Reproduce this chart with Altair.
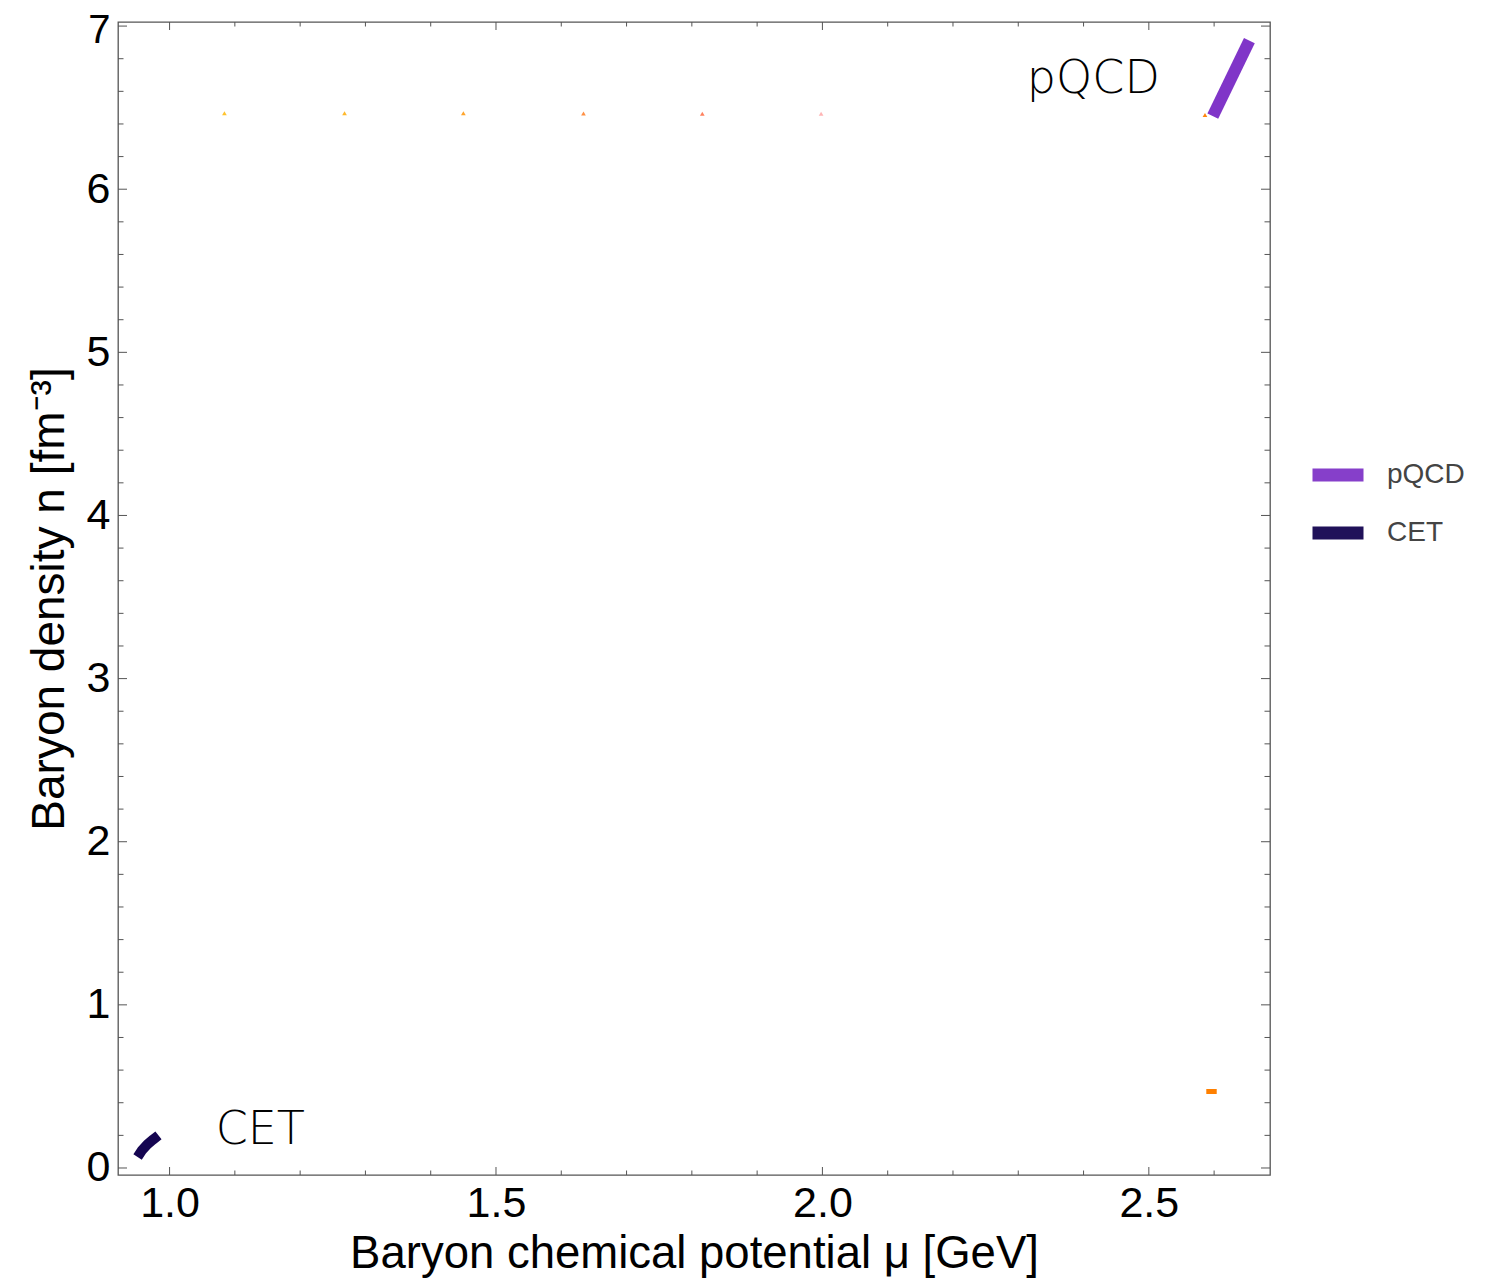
import altair as alt
import pandas as pd

# ---- data ----
pqcd_mu = [2.598, 2.654]
pqcd_n = [6.448, 6.911]

cet_mu = [0.951, 0.958, 0.966, 0.975, 0.983]
cet_n = [0.067, 0.110, 0.145, 0.175, 0.200]

dash_mu = [2.588, 2.604]
dash_n = [0.469, 0.469]

spot_mu = [1.084, 1.268, 1.450, 1.634, 1.816, 1.998, 2.586]
spot_n = [6.466, 6.466, 6.466, 6.464, 6.463, 6.462, 6.455]
spot_col = ["#ffc022", "#ffb420", "#ffa020", "#ff8a3a", "#ff7a55", "#ffb0b0", "#ff8000"]

labels_txt = ["pQCD", "CET"]
labels_mu = [2.415, 1.139]
labels_n = [6.675, 0.233]

x_major = [1.0, 1.5, 2.0, 2.5]
x_minor = [1.1, 1.2, 1.3, 1.4, 1.6, 1.7, 1.8, 1.9, 2.1, 2.2, 2.3, 2.4, 2.6]
y_major = [0, 1, 2, 3, 4, 5, 6, 7]
y_minor = [0.2, 0.4, 0.6, 0.8, 1.2, 1.4, 1.6, 1.8, 2.2, 2.4, 2.6, 2.8,
           3.2, 3.4, 3.6, 3.8, 4.2, 4.4, 4.6, 4.8, 5.2, 5.4, 5.6, 5.8,
           6.2, 6.4, 6.6, 6.8]

series_names = ["pQCD", "CET"]
series_colors = ["#8035c8", "#150551"]

W, H = 1152, 1153
FONT = "Liberation Sans"

xs = alt.Scale(domain=[0.921, 2.6856], nice=False, zero=False)
ys = alt.Scale(domain=[-0.043, 7.025], nice=False, zero=False)

lines_df = pd.DataFrame({
    "mu": pqcd_mu + cet_mu,
    "n": pqcd_n + cet_n,
    "series": ["pQCD"] * len(pqcd_mu) + ["CET"] * len(cet_mu),
    "order": list(range(len(pqcd_mu))) + list(range(len(cet_mu))),
})

xaxis = alt.Axis(values=x_major, format=".1f", ticks=False, domain=False, grid=False,
                 labelFont=FONT, labelFontSize=43, labelColor="black", labelPadding=7,
                 title="Baryon chemical potential μ [GeV]", titleFont=FONT,
                 titleFontSize=45.5, titleFontWeight="normal", titleColor="black",
                 titlePadding=6)
yaxis = alt.Axis(values=y_major, format="d", ticks=False, domain=False, grid=False,
                 labelFont=FONT, labelColor="black", labelPadding=8,
                 labelFontSize={"condition": {"test": "datum.value >= 7", "value": 40},
                                "value": 43},
                 labelOffset={"condition": {"test": "datum.value >= 7", "value": 4},
                              "value": 0},
                 title="Baryon density  n [fm⁻³]", titleFont=FONT,
                 titleFontSize=46, titleFontWeight="normal", titleColor="black",
                 titlePadding=13)


def X(field="mu"):
    return alt.X(f"{field}:Q", scale=xs, axis=xaxis)


def Y(field="n"):
    return alt.Y(f"{field}:Q", scale=ys, axis=yaxis)


color_scale = alt.Scale(domain=series_names, range=series_colors)
legend = alt.Legend(title=None, orient="none", legendX=1188, legendY=421,
                    symbolType="stroke", symbolSize=2601, symbolStrokeWidth=13,
                    symbolOpacity=1, labelFont=FONT, labelFontSize=28,
                    labelColor="#444", labelOffset=17, rowPadding=0)

pq = alt.Chart(lines_df[lines_df.series == "pQCD"]).mark_line(
    strokeWidth=12, strokeCap="butt", opacity=1).encode(
    x=X(), y=Y(), order="order:Q",
    color=alt.Color("series:N", scale=color_scale, legend=legend),
)
ce = alt.Chart(lines_df[lines_df.series == "CET"]).mark_line(
    strokeWidth=10, strokeCap="butt", strokeJoin="round", opacity=1).encode(
    x=X(), y=Y(), order="order:Q",
    color=alt.Color("series:N", scale=color_scale, legend=legend),
)

dash = alt.Chart(pd.DataFrame({"mu": dash_mu, "n": dash_n})).mark_line(
    strokeWidth=5, color="#ff8000", strokeCap="butt").encode(x=X(), y=Y())

spots = alt.Chart(pd.DataFrame({"mu": spot_mu, "n": spot_n, "c": spot_col})).mark_point(
    shape="triangle-up", filled=True, size=22, opacity=0.95).encode(
    x=X(), y=Y(), color=alt.Color("c:N", scale=None))

txt = alt.Chart(pd.DataFrame({"t": labels_txt, "mu": labels_mu, "n": labels_n})).mark_text(
    font="DejaVu Sans", fontSize=46, fontWeight=200, color="black", align="center",
    baseline="middle").encode(x=X(), y=Y(), text="t:N")

TC = "#555"


def xticks(vals, length, top):
    df = pd.DataFrame({"v": vals})
    y0, y1 = (0, length) if top else (H, H - length)
    return alt.Chart(df).mark_rule(color=TC, strokeWidth=1).encode(
        x=X("v"), y=alt.value(y0), y2=alt.value(y1))


def yticks(vals, length, right):
    df = pd.DataFrame({"v": vals})
    x0, x1 = (W, W - length) if right else (0, length)
    return alt.Chart(df).mark_rule(color=TC, strokeWidth=1).encode(
        y=Y("v"), x=alt.value(x0), x2=alt.value(x1))


ticks = [
    xticks(x_major, 8, False), xticks(x_minor, 4.5, False),
    xticks(x_major, 8, True), xticks(x_minor, 4.5, True),
    yticks(y_major, 9, False), yticks(y_minor, 5.5, False),
    yticks(y_major, 9, True), yticks(y_minor, 5.5, True),
]

chart = alt.layer(pq, *ticks, spots, dash, ce, txt).properties(
    width=W, height=H,
    background="white",
    padding={"left": 110, "top": 14, "right": 212, "bottom": 103},
    autosize=alt.AutoSizeParams(type="none"),
).configure_view(stroke="#555", strokeWidth=1.3)

chart.save("out.html", embed_options={"renderer": "svg", "actions": False})
